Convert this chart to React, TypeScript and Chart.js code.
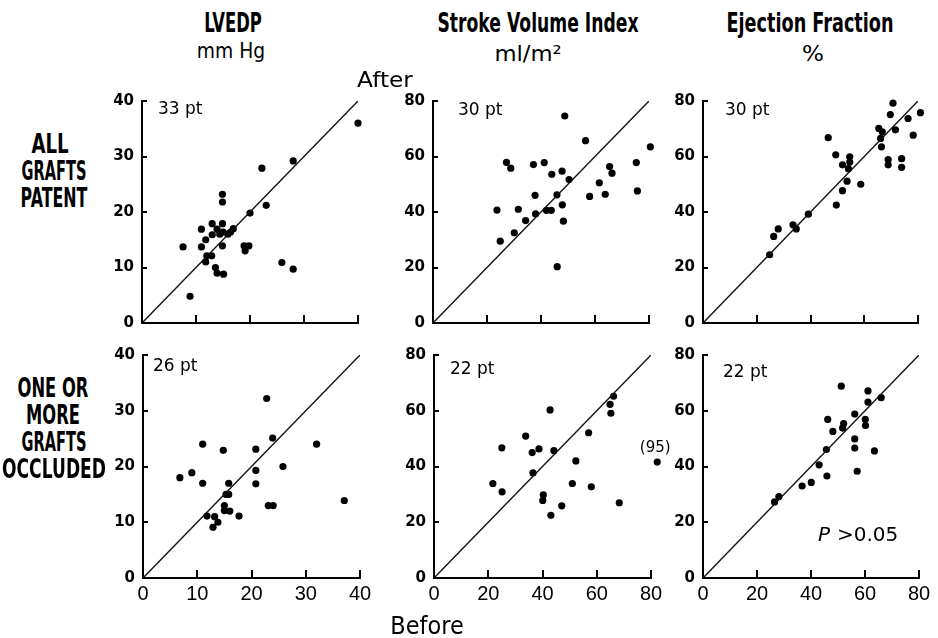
import React, { useEffect, useLayoutEffect, useRef, useState } from "react";
import { Chart, registerables } from "chart.js";

Chart.register(...registerables);

// ---------------- data ----------------
const lvedpTicks = [0, 10, 20, 30, 40];
const percentTicks = [0, 20, 40, 60, 80];

// LVEDP (mm Hg), all grafts patent (33 pt)
const lvedpPatentBefore = [40.0, 28.0, 22.2, 14.9, 14.9, 23.0, 20.0, 13.0, 14.9, 11.0, 13.9, 16.9, 15.0, 15.9, 13.0, 11.8, 7.6, 11.0, 14.9, 18.9, 19.8, 19.1, 12.0, 12.9, 11.8, 13.6, 13.9, 15.1, 25.9, 28.0, 8.9, 14.4, 16.4];
const lvedpPatentAfter = [36.0, 29.2, 27.9, 23.2, 21.8, 21.2, 19.8, 17.9, 17.9, 16.9, 16.9, 17.0, 16.4, 16.0, 15.9, 15.0, 13.7, 13.7, 13.9, 13.9, 13.9, 13.0, 12.1, 12.1, 11.0, 10.0, 9.0, 8.8, 10.9, 9.7, 4.8, 16.0, 16.4];

// Stroke volume index (ml/m2), all grafts patent (30 pt)
const sviPatentBefore = [80.5, 48.8, 56.5, 27.2, 28.8, 37.2, 41.2, 47.8, 44.0, 50.4, 65.4, 66.3, 75.3, 61.6, 63.8, 58.0, 75.7, 45.9, 37.8, 47.9, 23.7, 31.6, 42.0, 43.8, 38.0, 34.3, 48.3, 30.1, 24.9, 46.0];
const sviPatentAfter = [63.5, 74.6, 65.7, 57.9, 55.8, 57.1, 57.8, 54.7, 53.6, 51.7, 56.4, 54.0, 57.8, 50.5, 46.4, 45.6, 47.6, 46.2, 46.0, 42.6, 40.7, 41.0, 40.6, 40.6, 39.3, 36.9, 36.7, 32.5, 29.5, 20.3];

// Ejection fraction (%), all grafts patent (30 pt)
const efPatentBefore = [24.8, 26.3, 28.0, 33.5, 34.7, 39.2, 46.6, 49.4, 51.9, 54.6, 54.6, 54.1, 53.6, 51.9, 49.6, 58.7, 65.4, 66.7, 66.1, 66.4, 69.7, 70.7, 71.6, 68.9, 68.9, 73.9, 73.9, 76.3, 78.2, 80.9];
const efPatentAfter = [24.6, 31.2, 33.9, 35.4, 33.9, 39.2, 66.8, 60.6, 57.0, 59.9, 58.0, 55.6, 51.1, 47.7, 42.5, 50.0, 70.1, 68.9, 66.5, 63.5, 75.1, 79.2, 69.6, 58.9, 57.0, 59.2, 56.1, 73.7, 67.7, 75.8];

// LVEDP, one or more grafts occluded (26 pt)
const lvedpOccludedBefore = [22.8, 23.9, 11.0, 14.8, 20.8, 32.0, 6.8, 9.0, 20.8, 25.8, 11.0, 15.8, 20.8, 15.3, 15.8, 37.1, 23.1, 24.0, 15.0, 15.0, 16.0, 17.7, 11.8, 13.2, 13.8, 12.9];
const lvedpOccludedAfter = [32.2, 25.1, 24.0, 22.9, 23.1, 24.0, 18.0, 18.9, 19.3, 20.0, 17.0, 17.0, 16.9, 15.0, 15.0, 13.9, 13.0, 13.0, 13.0, 12.1, 12.0, 11.1, 11.1, 11.0, 10.0, 9.1];

// Stroke volume index, one or more grafts occluded (22 pt, one plotted off scale)
const sviOccludedBefore = [21.7, 25.1, 25.0, 33.8, 36.2, 38.7, 36.5, 42.8, 44.2, 40.3, 40.1, 43.1, 47.1, 52.3, 51.0, 58.0, 57.0, 64.9, 66.2, 65.2, 68.3];
const sviOccludedAfter = [33.9, 30.9, 46.7, 50.9, 45.0, 46.3, 37.7, 60.3, 45.7, 29.8, 27.8, 22.5, 25.9, 42.0, 33.9, 32.7, 52.1, 62.3, 65.2, 59.1, 27.0];
const sviOffscaleBefore = [82.3];
const sviOffscaleAfter = [41.6];
const sviOffscaleLabels = ["(95)"];

// Ejection fraction, one or more grafts occluded (22 pt)
const efOccludedBefore = [26.5, 28.1, 36.7, 40.1, 43.0, 45.9, 45.7, 46.2, 48.1, 51.2, 51.7, 52.1, 56.2, 56.2, 56.2, 57.1, 60.1, 60.2, 61.1, 61.1, 63.5, 66.0];
const efOccludedAfter = [27.3, 29.2, 33.0, 34.3, 40.6, 36.6, 46.1, 56.9, 52.6, 68.8, 53.8, 55.4, 58.8, 49.9, 46.6, 38.3, 56.9, 54.7, 67.1, 63.1, 45.6, 64.7];

const patientCounts = ["33 pt", "30 pt", "30 pt", "26 pt", "22 pt", "22 pt"];
const pValueText = ">0.05";

// ---------------- layout ----------------
const YW = 50; // y-axis box width
const XH = 36; // x-axis box height
const PT = 16; // top padding
const PR = 30; // right padding

type Area = { left: number; top: number; width: number; height: number };
type PanelCfg = {
  before: number[];
  after: number[];
  ticks: number[];
  area: Area;
  count: string;
  countDx: number;
  countBase: number;
  xLabels: boolean;
  extra?: "offscale" | "pvalue";
};

const panels: PanelCfg[] = [
  { before: lvedpPatentBefore, after: lvedpPatentAfter, ticks: lvedpTicks, area: { left: 142, top: 100, width: 216, height: 223 }, count: patientCounts[0], countDx: 16, countBase: 13, xLabels: false },
  { before: sviPatentBefore, after: sviPatentAfter, ticks: percentTicks, area: { left: 433, top: 100, width: 216, height: 223 }, count: patientCounts[1], countDx: 25, countBase: 14, xLabels: false },
  { before: efPatentBefore, after: efPatentAfter, ticks: percentTicks, area: { left: 703, top: 100, width: 215, height: 223 }, count: patientCounts[2], countDx: 22, countBase: 14, xLabels: false },
  { before: lvedpOccludedBefore, after: lvedpOccludedAfter, ticks: lvedpTicks, area: { left: 143, top: 354, width: 217, height: 224 }, count: patientCounts[3], countDx: 10, countBase: 16, xLabels: true },
  { before: sviOccludedBefore, after: sviOccludedAfter, ticks: percentTicks, area: { left: 434, top: 354, width: 217, height: 224 }, count: patientCounts[4], countDx: 16, countBase: 19, xLabels: true, extra: "offscale" },
  { before: efOccludedBefore, after: efOccludedAfter, ticks: percentTicks, area: { left: 703, top: 354, width: 216, height: 224 }, count: patientCounts[5], countDx: 20, countBase: 22, xLabels: true, extra: "pvalue" },
];

type TextItem = { text: string; cx: number; cy: number; size: number; width: number; weight: number; family: string };
const CONDENSED = '"DejaVu Sans", sans-serif';
const PLAIN = '"DejaVu Sans", sans-serif';
const texts: TextItem[] = [
  { text: "LVEDP", cx: 233, cy: 22.5, size: 26, width: 58, weight: 700, family: CONDENSED },
  { text: "Stroke Volume Index", cx: 537.5, cy: 22.5, size: 26, width: 201, weight: 700, family: CONDENSED },
  { text: "Ejection Fraction", cx: 810, cy: 22.5, size: 26, width: 167, weight: 700, family: CONDENSED },
  { text: "mm Hg", cx: 231, cy: 51, size: 22, width: 68, weight: 400, family: PLAIN },
  { text: "ml/m²", cx: 528, cy: 53.5, size: 22, width: 67, weight: 400, family: PLAIN },
  { text: "%", cx: 812.5, cy: 53.5, size: 22, width: 22, weight: 400, family: PLAIN },
  { text: "After", cx: 385, cy: 80, size: 22, width: 56, weight: 400, family: PLAIN },
  { text: "Before", cx: 427, cy: 626, size: 24, width: 73, weight: 400, family: PLAIN },
  { text: "ALL", cx: 50, cy: 144, size: 26, width: 37, weight: 700, family: CONDENSED },
  { text: "GRAFTS", cx: 54, cy: 171, size: 26, width: 65, weight: 700, family: CONDENSED },
  { text: "PATENT", cx: 54, cy: 198, size: 26, width: 67, weight: 700, family: CONDENSED },
  { text: "ONE OR", cx: 53, cy: 388, size: 26, width: 71, weight: 700, family: CONDENSED },
  { text: "MORE", cx: 53, cy: 415, size: 26, width: 54, weight: 700, family: CONDENSED },
  { text: "GRAFTS", cx: 54, cy: 442, size: 26, width: 65, weight: 700, family: CONDENSED },
  { text: "OCCLUDED", cx: 54, cy: 469, size: 26, width: 104, weight: 700, family: CONDENSED },
];

function FitText({ t }: { t: TextItem }) {
  const ref = useRef<HTMLSpanElement>(null);
  const [sx, setSx] = useState(1);
  useLayoutEffect(() => {
    const el = ref.current;
    if (!el) return;
    const w = el.offsetWidth;
    if (w > 0) setSx(t.width / w);
  }, [t]);
  return (
    <span
      ref={ref}
      style={{
        position: "absolute",
        left: t.cx,
        top: t.cy,
        whiteSpace: "pre",
        fontFamily: t.family,
        fontSize: t.size,
        fontWeight: t.weight,
        lineHeight: 1,
        color: "#000",
        transform: `translate(-50%, -50%) scaleX(${sx})`,
      }}
    >
      {t.text}
    </span>
  );
}

function Panel({ cfg }: { cfg: PanelCfg }) {
  const ref = useRef<HTMLCanvasElement>(null);
  const W = YW + cfg.area.width + PR;
  const H = PT + cfg.area.height + XH;

  useEffect(() => {
    const canvas = ref.current;
    if (!canvas) return;
    const tmin = cfg.ticks[0];
    const tmax = cfg.ticks[cfg.ticks.length - 1];
    const points = cfg.before.map((b, i) => ({ x: b, y: cfg.after[i] }));

    const deco = {
      id: "deco",
      afterDatasetsDraw(chart: any) {
        const { ctx, chartArea: a, scales } = chart;
        const x = scales.x;
        const y = scales.y;
        ctx.save();
        ctx.strokeStyle = "#000";
        ctx.lineWidth = 2;
        cfg.ticks.forEach((v) => {
          if (v === tmin) return;
          const px = Math.round(x.getPixelForValue(v));
          ctx.beginPath();
          ctx.moveTo(px, a.bottom);
          ctx.lineTo(px, a.bottom - 8);
          ctx.stroke();
          const py = Math.round(y.getPixelForValue(v));
          ctx.beginPath();
          ctx.moveTo(a.left, py);
          ctx.lineTo(a.left + 5, py);
          ctx.stroke();
        });
        ctx.fillStyle = "#000";
        ctx.textAlign = "left";
        ctx.textBaseline = "alphabetic";
        ctx.font = '17px "DejaVu Sans"';
        ctx.fillText(cfg.count, a.left + cfg.countDx, a.top + cfg.countBase);
        if (cfg.extra === "offscale") {
          sviOffscaleBefore.forEach((b, i) => {
            const px = x.getPixelForValue(b);
            const py = y.getPixelForValue(sviOffscaleAfter[i]);
            ctx.beginPath();
            ctx.arc(px, py, 3.6, 0, Math.PI * 2);
            ctx.fill();
            ctx.font = '15px "DejaVu Sans"';
            ctx.textAlign = "center";
            ctx.fillText(sviOffscaleLabels[i], px - 2, py - 10);
          });
        }
        if (cfg.extra === "pvalue") {
          ctx.font = 'italic 20px "DejaVu Sans"';
          ctx.fillText("P", a.left + 115, a.top + 186);
          ctx.font = '20px "DejaVu Sans"';
          ctx.fillText(pValueText, a.left + 134, a.top + 186);
        }
        ctx.restore();
      },
    };

    const chart = new Chart(canvas, {
      type: "scatter",
      data: {
        datasets: [
          {
            data: [
              { x: tmin, y: tmin },
              { x: tmax, y: tmax },
            ],
            showLine: true,
            borderColor: "#111",
            borderWidth: 1.4,
            pointRadius: 0,
            fill: false,
          } as any,
          {
            data: points,
            backgroundColor: "#000",
            borderWidth: 0,
            pointRadius: 3.6,
            clip: false,
          } as any,
        ],
      },
      options: {
        responsive: false,
        animation: false,
        devicePixelRatio: 1,
        layout: { padding: { top: PT, right: PR, left: 0, bottom: 0 } },
        plugins: { legend: { display: false }, tooltip: { enabled: false } },
        scales: {
          x: {
            type: "linear",
            min: tmin,
            max: tmax,
            afterBuildTicks: (s: any) => {
              s.ticks = cfg.ticks.map((v) => ({ value: v }));
            },
            ticks: {
              display: cfg.xLabels,
              color: "#000",
              font: { family: '"Liberation Sans"', size: 20 },
              padding: 4,
              autoSkip: false,
              maxRotation: 0,
            },
            grid: { display: false, drawTicks: false },
            border: { display: true, color: "#000", width: 2 },
            afterFit: (s: any) => {
              s.height = XH;
            },
          },
          y: {
            type: "linear",
            min: tmin,
            max: tmax,
            afterBuildTicks: (s: any) => {
              s.ticks = cfg.ticks.map((v) => ({ value: v }));
            },
            ticks: {
              color: "#000",
              font: { family: '"DejaVu Sans"', size: 15, weight: "bold" },
              padding: 8,
              autoSkip: false,
            },
            grid: { display: false, drawTicks: false },
            border: { display: true, color: "#000", width: 2 },
            afterFit: (s: any) => {
              s.width = YW;
            },
          },
        },
      } as any,
      plugins: [deco],
    });
    return () => chart.destroy();
  }, [cfg]);

  return (
    <canvas
      ref={ref}
      width={W}
      height={H}
      style={{ position: "absolute", left: cfg.area.left - YW, top: cfg.area.top - PT, width: W, height: H }}
    />
  );
}

export default function App() {
  return (
    <div
      style={{
        position: "absolute",
        left: 0,
        top: 0,
        width: 938,
        height: 638,
        background: "#fff",
        overflow: "hidden",
      }}
    >
      {panels.map((p, i) => (
        <Panel key={i} cfg={p} />
      ))}
      {texts.map((t, i) => (
        <FitText key={i} t={t} />
      ))}
    </div>
  );
}
